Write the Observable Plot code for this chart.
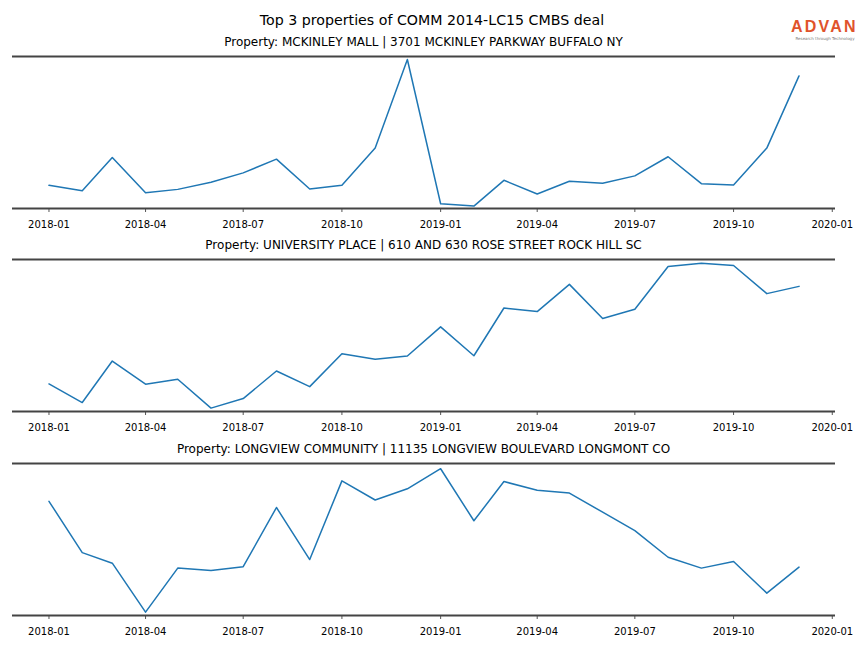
<!DOCTYPE html>
<html>
<head>
<meta charset="utf-8">
<script src="https://cdn.jsdelivr.net/npm/d3@7"></script>
<script src="https://cdn.jsdelivr.net/npm/@observablehq/plot@0.6"></script>
<style>
  html, body { margin: 0; padding: 0; background: #fff; }
  #chart { position: relative; width: 864px; height: 648px; background: #fff; font-family: "DejaVu Sans", sans-serif; color: #000; overflow: hidden; }
  .lbl { position: absolute; text-align: center; white-space: nowrap; }
  .panel { position: absolute; left: 0; }
</style>
</head>
<body>
<div id="chart"></div>
<script>
const suptitle = "Top 3 properties of COMM 2014-LC15 CMBS deal";
const months = ["2018-01","2018-02","2018-03","2018-04","2018-05","2018-06","2018-07","2018-08","2018-09","2018-10","2018-11","2018-12",
                "2019-01","2019-02","2019-03","2019-04","2019-05","2019-06","2019-07","2019-08","2019-09","2019-10","2019-11","2019-12"];
const panelTitles = [
  "Property: MCKINLEY MALL | 3701 MCKINLEY PARKWAY BUFFALO NY",
  "Property: UNIVERSITY PLACE | 610 AND 630 ROSE STREET ROCK HILL SC",
  "Property: LONGVIEW COMMUNITY | 11135 LONGVIEW BOULEVARD LONGMONT CO"
];
const mckinley   = [23, 17.7, 50.7, 15.7, 19, 26, 35.4, 49, 19.4, 23, 60, 148,
                    4.7, 2.4, 28, 14.4, 27, 25, 32.4, 51.4, 24.7, 23.4, 60, 131.7];
const university = [27.7, 9, 50.7, 27.4, 32.4, 3.4, 13, 40.7, 25, 58, 52.4, 55.7,
                    85, 56, 104, 100.4, 127.7, 93.4, 102.7, 145.7, 149, 146.7, 118.4, 125.7];
const longview   = [115.7, 63.7, 53, 3.4, 48, 45.7, 49.4, 109.4, 56.7, 136.4, 117, 128.4,
                    148.7, 96, 135.7, 127, 124, 104.7, 86, 59, 48, 54.7, 22.7, 49];
const seriesList = [mckinley, university, longview];
const yLimits = [[0, 151], [0, 152.7], [0, 154]];

const chart = document.getElementById("chart");

function addLabel(text, left, width, centerY, size, extra, boxH) {
  const h = boxH || 20;
  const d = document.createElement("div");
  d.className = "lbl";
  d.textContent = text;
  d.style.left = left + "px";
  d.style.width = width + "px";
  d.style.top = (centerY - h / 2) + "px";
  d.style.height = h + "px";
  d.style.lineHeight = h + "px";
  d.style.fontSize = size + "px";
  if (extra) Object.assign(d.style, extra);
  chart.appendChild(d);
  return d;
}

addLabel(suptitle, 0, 864, 20, 14.2);

// logo
addLabel("ADVAN", 791, 72, 27, 16, {color: "#e0532b", fontFamily: "'Liberation Sans', sans-serif", fontWeight: "bold", letterSpacing: "2.2px", textAlign: "left"}, 14);
addLabel("Research through Technology", 791, 68, 38.5, 4, {color: "#777", textAlign: "center"}, 5);

const dates = months.map(m => new Date(m + "-01T00:00:00Z"));
const xDomain = [d3.utcDay.offset(dates[0], -34), d3.utcDay.offset(dates[dates.length - 1], 34)];

const spineTop0 = 56, step = 203.3, innerH = 152, mt = 10, mb = 34;
const left = 12, right = 29;

seriesList.forEach((vals, i) => {
  const rows = dates.map((d, j) => ({date: d, value: vals[j]}));
  const spineTop = spineTop0 + step * i;
  addLabel(panelTitles[i], left, 864 - left - right, spineTop - 14, 12);
  const svg = Plot.plot({
    width: 864,
    height: mt + innerH + mb,
    marginTop: mt,
    marginBottom: mb,
    marginLeft: left,
    marginRight: right,
    style: {fontFamily: "'DejaVu Sans', sans-serif", fontSize: "10px", background: "transparent", overflow: "visible"},
    x: {type: "utc", domain: xDomain},
    y: {domain: yLimits[i], axis: null},
    marks: [
      Plot.axisX({ticks: d3.utcMonth.every(3), tickFormat: d3.utcFormat("%Y-%m"), tickSize: 4, tickPadding: 8, fontSize: 10, stroke: "#555", color: "#000", label: null}),
      Plot.ruleY(yLimits[i], {stroke: "#444", strokeWidth: 1.8}),
      Plot.lineY(rows, {x: "date", y: "value", stroke: "#1f77b4", strokeWidth: 1.5})
    ]
  });
  svg.classList.add("panel");
  svg.style.top = (spineTop - mt) + "px";
  svg.style.position = "absolute";
  chart.appendChild(svg);
});
</script>
</body>
</html>
